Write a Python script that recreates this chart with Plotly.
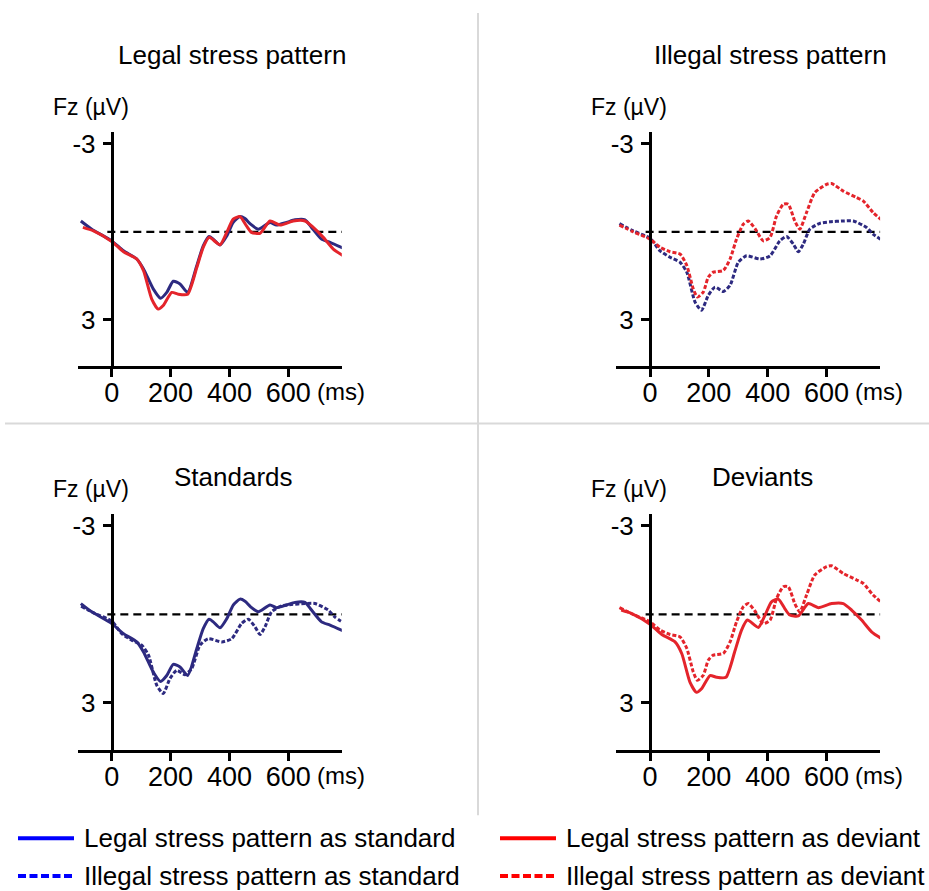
import plotly.graph_objects as go

W, H = 929, 891

# ERP amplitudes at Fz (µV); negative is plotted upward
legal_std_t = [-105, -68, 0, 40, 85, 108, 141, 166, 187, 209, 232, 258, 289, 311, 331, 345, 368, 391,
               413, 436, 453, 472, 498, 538, 560, 594, 623, 657, 679, 713, 742, 787]
legal_std_v = [-0.37, -0.09, 0.31, 0.65, 0.93, 1.27, 1.95, 2.27, 2.07, 1.69, 1.78, 2.07, 1.16, 0.48, 0.16,
               0.25, 0.45, 0.14, -0.32, -0.52, -0.45, -0.26, -0.09, -0.32, -0.23, -0.32, -0.41, -0.41,
               -0.15, 0.25, 0.36, 0.56]

legal_dev_t = [-98, -62, 0, 40, 85, 108, 136, 158, 175, 204, 226, 258, 289, 311, 331, 368, 391, 413,
               436, 458, 475, 504, 538, 572, 617, 657, 685, 719, 753, 787]
legal_dev_v = [-0.15, -0.03, 0.33, 0.68, 0.93, 1.33, 2.30, 2.64, 2.52, 2.07, 2.13, 2.13, 1.22, 0.53, 0.19,
               0.44, 0.02, -0.43, -0.52, -0.20, 0.02, 0.05, -0.37, -0.23, -0.37, -0.37, -0.15, 0.19,
               0.59, 0.82]

illegal_std_t = [-104, -57, 0, 34, 68, 102, 125, 153, 175, 198, 221, 249, 272, 300, 328, 374, 408, 441,
                 464, 487, 504, 521, 543, 577, 611, 657, 691, 736, 758, 792]
illegal_std_v = [-0.28, -0.03, 0.22, 0.65, 0.87, 1.04, 1.38, 2.40, 2.68, 2.17, 1.89, 2.04, 1.83, 1.04,
                 0.82, 0.93, 0.82, 0.31, 0.16, 0.42, 0.68, 0.42, -0.09, -0.29, -0.34, -0.37, -0.37,
                 -0.15, 0.08, 0.31]

illegal_dev_t = [-104, -57, 0, 34, 68, 102, 125, 147, 161, 181, 198, 215, 249, 272, 294, 317, 334, 357,
                 385, 408, 430, 453, 470, 492, 509, 532, 560, 600, 617, 657, 702, 725, 758, 787]
illegal_dev_v = [-0.23, 0.00, 0.25, 0.53, 0.68, 0.76, 1.15, 1.95, 2.23, 2.06, 1.55, 1.38, 1.32, 0.93,
                 0.25, -0.26, -0.37, -0.11, 0.31, 0.19, -0.54, -0.94, -0.94, -0.37, -0.09, -0.66,
                 -1.34, -1.62, -1.65, -1.39, -1.17, -1.05, -0.66, -0.41]

panel_titles = ["Legal stress pattern", "Illegal stress pattern", "Standards", "Deviants"]
legend_labels = ["Legal stress pattern as standard", "Illegal stress pattern as standard",
                 "Legal stress pattern as deviant", "Illegal stress pattern as deviant"]
x_ticks = [0, 200, 400, 600]
y_ticks = [-3, 3]
y_ticktext = ["-3", "3"]

NAVY = "#2d2a80"
RED = "#e4242b"
FONT = "Liberation Sans, Arial, sans-serif"


def px(x):
    return x / W


def py(y):
    return 1 - y / H


series = {
    "legal_std": (legal_std_t, legal_std_v, NAVY, "solid"),
    "illegal_std": (illegal_std_t, illegal_std_v, NAVY, "4px,2px"),
    "legal_dev": (legal_dev_t, legal_dev_v, RED, "solid"),
    "illegal_dev": (illegal_dev_t, illegal_dev_v, RED, "4px,2px"),
}

# panel -> (series keys, x domain px, y domain px, zero-ms x px)
panels = [
    (["legal_std", "legal_dev"], (77.9, 341.8), (129.7, 364.7), 111.7),
    (["illegal_std", "illegal_dev"], (616.2, 880.1), (129.7, 364.7), 650.0),
    (["legal_std", "illegal_std"], (77.9, 341.8), (512.9, 749.7), 111.7),
    (["legal_dev", "illegal_dev"], (616.2, 880.1), (512.9, 749.7), 650.0),
]

fig = go.Figure()
layout = dict(
    width=W, height=H, margin=dict(l=0, r=0, t=0, b=0),
    paper_bgcolor="white", plot_bgcolor="rgba(0,0,0,0)",
    showlegend=False, font=dict(family=FONT, color="black"),
)
shapes = []
annotations = []

for i, (keys, xd, yd, x0px) in enumerate(panels, start=1):
    sfx = "" if i == 1 else str(i)
    xa, ya = "x" + sfx, "y" + sfx
    layout["xaxis" + sfx] = dict(
        domain=[px(xd[0]), px(xd[1])], range=[-115, 782], anchor=ya,
        showline=True, linewidth=3, linecolor="black", ticks="outside", ticklen=8,
        tickwidth=3, tickcolor="black", tickvals=x_ticks, tickfont=dict(size=27),
        showgrid=False, zeroline=False, fixedrange=True, ticklabelstandoff=-8,
    )
    layout["yaxis" + sfx] = dict(
        domain=[py(yd[1]), py(yd[0])], range=[4.6, -3.4], anchor="free", position=px(x0px),
        showline=True, linewidth=3, linecolor="black", ticks="outside", ticklen=8,
        tickwidth=3, tickcolor="black", tickvals=y_ticks, ticktext=y_ticktext,
        tickfont=dict(size=26), showgrid=False, zeroline=False, fixedrange=True,
        ticklabelstandoff=2,
    )
    # dashed baseline at 0 µV
    shapes.append(dict(type="line", xref=xa, yref=ya, x0=-15, x1=790, y0=0, y1=0,
                       line=dict(color="black", width=2.2, dash="8px,5px"), layer="below"))
    for k in keys:
        t, v, c, d = series[k]
        fig.add_trace(go.Scatter(x=t, y=v, xaxis=xa, yaxis=ya, mode="lines",
                                 line=dict(color=c, width=3, dash=d, shape="spline", smoothing=0.6),
                                 hoverinfo="skip"))
    top = yd[0]
    annotations.append(dict(text="Fz (µV)", xref="paper", yref="paper", x=px(xd[0] - 27),
                            y=py(top - 25), xanchor="left", yanchor="middle", showarrow=False,
                            font=dict(size=23)))
    annotations.append(dict(text="(ms)", xref="paper", yref="paper", x=px(x0px + 203),
                            y=py(yd[1] + 25), xanchor="left", yanchor="middle", showarrow=False,
                            font=dict(size=24)))

# panel titles
title_pos = [(232, 52), (770, 52), (233, 476), (762, 476)]
for txt, (tx, ty) in zip(panel_titles, title_pos):
    annotations.append(dict(text=txt, xref="paper", yref="paper", x=px(tx), y=py(ty),
                            xanchor="center", yanchor="middle", showarrow=False,
                            font=dict(size=26)))

# light grey dividers between panels
shapes.append(dict(type="line", xref="paper", yref="paper", x0=px(478), x1=px(478),
                   y0=py(10), y1=py(815), line=dict(color="#d9d9d9", width=2)))
shapes.append(dict(type="line", xref="paper", yref="paper", x0=px(5), x1=px(929),
                   y0=py(422), y1=py(422), line=dict(color="#d9d9d9", width=2)))

# legend drawn as line samples and labels
legend_items = [
    (legend_labels[0], "#0000ff", "solid", 18, 838),
    (legend_labels[1], "#0000ff", "8px,3.5px", 18, 876),
    (legend_labels[2], "#ff0000", "solid", 500, 838),
    (legend_labels[3], "#ff0000", "8px,3.5px", 500, 876),
]
for label, col, dash, lx, ly in legend_items:
    shapes.append(dict(type="line", xref="paper", yref="paper", x0=px(lx), x1=px(lx + 56),
                       y0=py(ly), y1=py(ly), line=dict(color=col, width=4, dash=dash)))
    annotations.append(dict(text=label, xref="paper", yref="paper", x=px(lx + 64), y=py(ly),
                            xanchor="left", yanchor="middle", showarrow=False,
                            font=dict(size=26)))

layout["shapes"] = shapes
layout["annotations"] = annotations
fig.update_layout(**layout)

fig.write_html("out.html", config={"displayModeBar": False, "staticPlot": True})
